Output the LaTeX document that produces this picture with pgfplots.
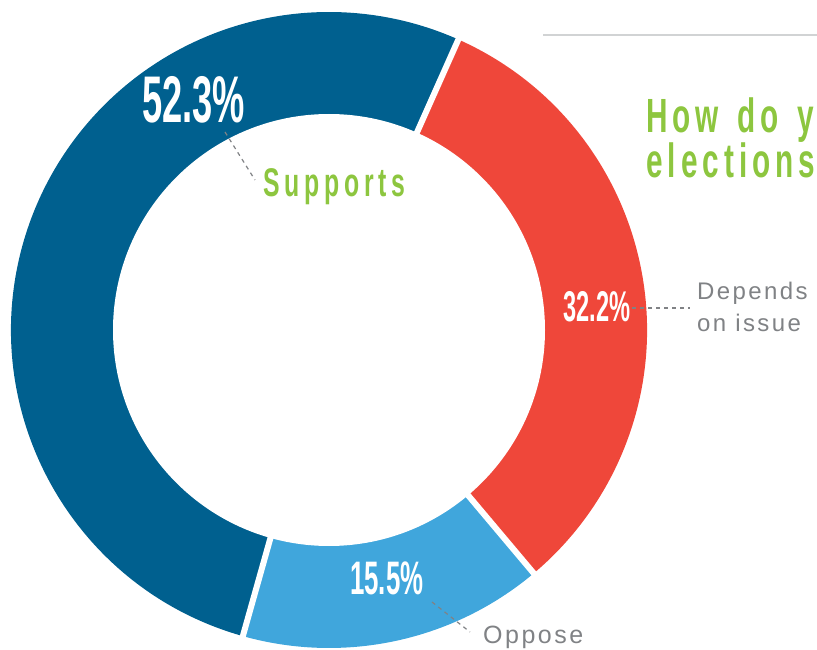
\documentclass[border=0pt]{standalone}
\usepackage{fontspec}
\setmainfont{Liberation Sans}
\newfontfamily\numfont{Liberation Sans}[FakeStretch=0.55]
\newfontfamily\grnfont{Liberation Sans}[FakeStretch=0.62,LetterSpace=12]
\newfontfamily\ttlfont{Liberation Sans}[FakeStretch=0.62,LetterSpace=10.5]
\newfontfamily\grayfont{Liberation Sans}[LetterSpace=10]
\usepackage{pgfplots}
\usepackage{pgfplotstable}
\pgfplotsset{compat=1.18}

\definecolor{supblue}{HTML}{00608F}
\definecolor{depred}{HTML}{EF473A}
\definecolor{oppblue}{HTML}{40A6DC}
\definecolor{titlegreen}{HTML}{8DC63F}
\definecolor{labelgray}{HTML}{808285}
\definecolor{rulegray}{HTML}{D1D3D4}

\pgfplotstableread{
label    value
Depends  32.2
Oppose   15.5
Supports 52.3
}\shares

\begin{document}
\begin{tikzpicture}
\pgfplotstablegetelem{0}{value}\of\shares \let\vDep\pgfplotsretval
\pgfplotstablegetelem{1}{value}\of\shares \let\vOpp\pgfplotsretval
\pgfplotstablegetelem{2}{value}\of\shares \let\vSup\pgfplotsretval
% slices run clockwise, starting 24 deg right of the top
\pgfmathsetmacro\aA{66}
\pgfmathsetmacro\aB{\aA-3.6*\vDep}
\pgfmathsetmacro\aC{\aB-3.6*\vOpp}
\pgfmathsetmacro\aD{\aC-3.6*\vSup}
\useasboundingbox (0,0) rectangle (817pt,649pt);
\clip (0,0) rectangle (817pt,649pt);
\begin{axis}[
    at={(0,0)}, anchor=south west,
    scale only axis, width=817pt, height=649pt,
    xmin=0, xmax=817, ymin=0, ymax=649,
    hide axis, clip=false,
]
    \fill[depred]  (axis cs:329,319) -- ++(\aA:318pt) arc[start angle=\aA, end angle=\aB, radius=318pt] -- cycle;
    \fill[oppblue] (axis cs:329,319) -- ++(\aB:318pt) arc[start angle=\aB, end angle=\aC, radius=318pt] -- cycle;
    \fill[supblue] (axis cs:329,319) -- ++(\aC:318pt) arc[start angle=\aC, end angle=\aD, radius=318pt] -- cycle;
    \fill[white] (axis cs:329,319) circle[radius=216pt];
    \draw[white, line width=6pt] (axis cs:329,319) -- ++(\aA:330pt);
    \draw[white, line width=6pt] (axis cs:329,319) -- ++(\aB:330pt);
    \draw[white, line width=6pt] (axis cs:329,319) -- ++(\aC:330pt);

    % percentages
    \node[anchor=base west, inner sep=0, text=white, font=\numfont\bfseries\fontsize{66}{66}\selectfont] at (axis cs:142,526) {\vSup\%};
    \node[anchor=base west, inner sep=0, text=white, font=\numfont\bfseries\fontsize{43}{43}\selectfont] at (axis cs:563,327) {\vDep\%};
    \node[anchor=base west, inner sep=0, text=white, font=\numfont\bfseries\fontsize{47}{47}\selectfont] at (axis cs:350,55) {\vOpp\%};

    % leaders
    \draw[labelgray, line width=1.2pt, dash pattern=on 4pt off 4pt] (axis cs:225,517) -- (axis cs:255,469);
    \draw[labelgray, line width=1.2pt, dash pattern=on 4pt off 4pt] (axis cs:632,341) -- (axis cs:690,341);
    \draw[labelgray, line width=1.2pt, dash pattern=on 4pt off 4pt] (axis cs:432,47) -- (axis cs:470,17);

    % category labels (base anchor sits on the last line)
    \node[anchor=base west, inner sep=0, text=titlegreen, font=\grnfont\bfseries\fontsize{40}{40}\selectfont] at (axis cs:263,452) {Supports};
    \node[anchor=base west, inner sep=0, align=left, text=labelgray, font=\grayfont\fontsize{24}{32}\selectfont] at (axis cs:697,317) {Depends\\on issue};
    \node[anchor=base west, inner sep=0, text=labelgray, font=\grayfont\fontsize{25}{25}\selectfont] at (axis cs:483,6) {Oppose};

    % title, cut at the right edge
    \draw[rulegray, line width=1.5pt] (axis cs:543,614) -- (axis cs:830,614);
    \node[anchor=base west, inner sep=0, align=left, text=titlegreen, font=\ttlfont\bfseries\fontsize{48}{43}\selectfont] at (axis cs:646,471) {How\hspace{5pt} do\hspace{5pt} y\\elections};
\end{axis}
\end{tikzpicture}
\end{document}
